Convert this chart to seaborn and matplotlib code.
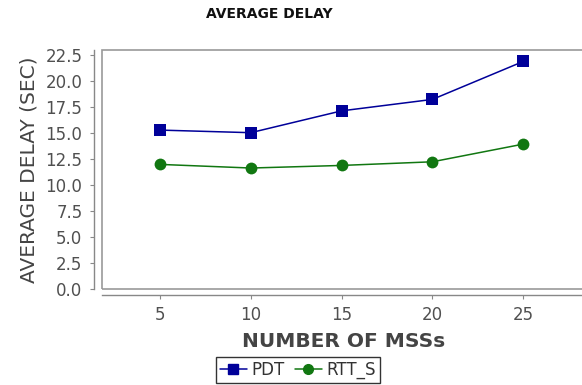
import matplotlib
matplotlib.use("Agg")
import matplotlib.pyplot as plt
import matplotlib.patches as mpatches
import seaborn as sns
import pandas as pd

# Number of mobile support stations and the measured average delays (seconds)
num_mss = [5, 10, 15, 20, 25]
pdt_delay = [15.3, 15.05, 17.15, 18.25, 21.9]
rtt_s_delay = [12.0, 11.65, 11.9, 12.25, 13.95]
series_names = ["PDT", "RTT_S"]
y_ticks = [0.0, 2.5, 5.0, 7.5, 10.0, 12.5, 15.0, 17.5, 20.0, 22.5]

df = pd.DataFrame({
    "mss": num_mss * 2,
    "delay": pdt_delay + rtt_s_delay,
    "series": [series_names[0]] * len(num_mss) + [series_names[1]] * len(num_mss),
})

sns.set_theme(style="white")
plt.rcParams["font.family"] = ["DejaVu Sans"]

fig = plt.figure(figsize=(5.82, 3.85), dpi=100)
ax = fig.add_axes([0.175, 0.249, 0.83, 0.621])

palette = {"PDT": "#000099", "RTT_S": "#117711"}
sns.lineplot(data=df, x="mss", y="delay", hue="series", style="series",
             markers={"PDT": "s", "RTT_S": "o"}, dashes=False,
             palette=palette, markersize=8.5, linewidth=1.1, markeredgewidth=0,
             ax=ax, legend=False)

ax.set_xlim(1.8, 28.4)
ax.set_ylim(0, 23.0)
ax.set_xticks(num_mss)
ax.set_yticks(y_ticks)
ax.set_yticklabels([f"{t:.1f}" for t in y_ticks])

# Light frame around the data area, with axis lines pushed outward
ax.add_patch(mpatches.Rectangle((0, 0), 1, 1, transform=ax.transAxes,
                                fill=False, edgecolor="#999999", linewidth=1.2,
                                clip_on=False, zorder=0))
for side in ["top", "right"]:
    ax.spines[side].set_visible(False)
ax.spines["left"].set_position(("outward", 6))
ax.spines["bottom"].set_position(("outward", 4))
for side in ["left", "bottom"]:
    ax.spines[side].set_color("#888888")
    ax.spines[side].set_linewidth(1.0)

ax.tick_params(axis="both", which="major", length=3, width=0.8, color="#888888",
               labelsize=12, labelcolor="#505050", left=True, bottom=True, pad=5)

ax.set_xlabel("NUMBER OF MSSs", fontsize=14.5, fontweight="bold", color="#444444", labelpad=6)
ax.set_ylabel("AVERAGE DELAY (SEC)", fontsize=14.5, color="#444444", labelpad=5)

fig.text(0.463, 0.963, "AVERAGE DELAY", ha="center", va="center",
         fontsize=10, fontweight="bold", color="#111111")

handles = [
    plt.Line2D([], [], color=palette["PDT"], marker="s", markersize=7, linewidth=1.1),
    plt.Line2D([], [], color=palette["RTT_S"], marker="o", markersize=7, linewidth=1.1),
]
leg = fig.legend(handles, series_names, loc="center", bbox_to_anchor=(0.512, 0.039),
                 ncol=2, frameon=True, fancybox=False, fontsize=12,
                 handlelength=1.6, handletextpad=0.3, columnspacing=0.6,
                 borderpad=0.25, borderaxespad=0)
leg.get_frame().set_edgecolor("#000000")
leg.get_frame().set_linewidth(1.0)
for t in leg.get_texts():
    t.set_color("#333333")

fig.savefig("out.png", dpi=100)
